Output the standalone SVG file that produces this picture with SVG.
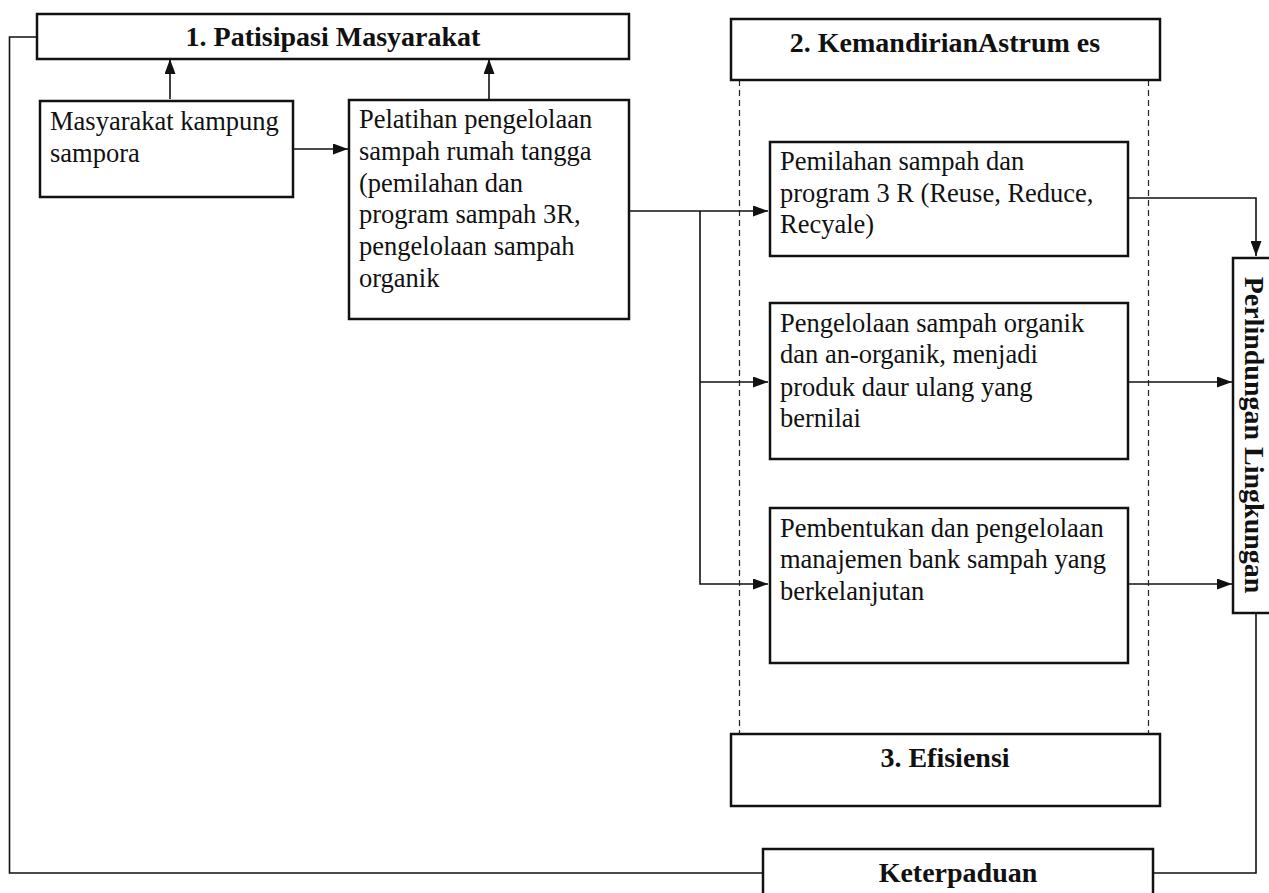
<svg xmlns="http://www.w3.org/2000/svg" width="1269" height="893" viewBox="0 0 1269 893">
<style>
.box{fill:#fff;stroke:#111;stroke-width:2.5}
.ln{fill:none;stroke:#111;stroke-width:1.6}
.dash{fill:none;stroke:#222;stroke-width:1.2;stroke-dasharray:6 4}
.t{font-family:"Liberation Serif","Times New Roman",serif;font-size:26.5px;fill:#111}
.h{font-family:"Liberation Serif","Times New Roman",serif;font-size:28px;font-weight:bold;fill:#111;text-anchor:middle}
</style>
<defs>
<marker id="ar" viewBox="0 0 15 11" refX="15" refY="5.5" markerWidth="15" markerHeight="11" markerUnits="userSpaceOnUse" orient="auto">
<path d="M0,0 L15,5.5 L0,11 Z" fill="#111"/>
</marker>
</defs>
<g id="connectors">
<polyline class="ln" points="37,37 9.5,37 9.5,873 763,873"/>
<polyline class="ln" points="1153,873 1256,873 1256,613"/>
<line class="ln" x1="170" y1="99" x2="170" y2="59" marker-end="url(#ar)"/>
<line class="ln" x1="489" y1="100" x2="489" y2="59" marker-end="url(#ar)"/>
<line class="ln" x1="293" y1="149" x2="348" y2="149" marker-end="url(#ar)"/>
<line class="ln" x1="629" y1="211" x2="768" y2="211" marker-end="url(#ar)"/>
<polyline class="ln" points="700,211 700,584 768,584" marker-end="url(#ar)"/>
<line class="ln" x1="700" y1="382" x2="768" y2="382" marker-end="url(#ar)"/>
<polyline class="ln" points="1128,198 1256,198 1256,256" marker-end="url(#ar)"/>
<line class="ln" x1="1128" y1="382" x2="1232" y2="382" marker-end="url(#ar)"/>
<line class="ln" x1="1128" y1="584" x2="1232" y2="584" marker-end="url(#ar)"/>
<line class="dash" x1="739.5" y1="80" x2="739.5" y2="734"/>
<line class="dash" x1="1148.5" y1="80" x2="1148.5" y2="734"/>
</g>
<g id="node-patisipasi">
<rect class="box" x="37" y="14" width="592" height="45"/>
<text class="h" x="333" y="46">1. Patisipasi Masyarakat</text>
</g>
<g id="node-masyarakat">
<rect class="box" x="40" y="101" width="253" height="96"/>
<text class="t" x="50" y="130">Masyarakat kampung</text>
<text class="t" x="50" y="162">sampora</text>
</g>
<g id="node-pelatihan">
<rect class="box" x="349" y="100" width="280" height="219"/>
<text class="t" x="359" y="128">Pelatihan pengelolaan</text>
<text class="t" x="359" y="160">sampah rumah tangga</text>
<text class="t" x="359" y="192">(pemilahan dan</text>
<text class="t" x="359" y="223">program sampah 3R,</text>
<text class="t" x="359" y="255">pengelolaan sampah</text>
<text class="t" x="359" y="287">organik</text>
</g>
<g id="node-kemandirian">
<rect class="box" x="731" y="19" width="429" height="61"/>
<text class="h" x="945" y="52">2. KemandirianAstrum es</text>
</g>
<g id="node-pemilahan">
<rect class="box" x="770" y="142" width="358" height="114"/>
<text class="t" x="780" y="170">Pemilahan sampah dan</text>
<text class="t" x="780" y="202">program 3 R (Reuse, Reduce,</text>
<text class="t" x="780" y="233">Recyale)</text>
</g>
<g id="node-organik">
<rect class="box" x="770" y="303" width="358" height="156"/>
<text class="t" x="780" y="332">Pengelolaan sampah organik</text>
<text class="t" x="780" y="363">dan an-organik, menjadi</text>
<text class="t" x="780" y="396">produk daur ulang yang</text>
<text class="t" x="780" y="427">bernilai</text>
</g>
<g id="node-bank">
<rect class="box" x="770" y="508" width="358" height="155"/>
<text class="t" x="780" y="537">Pembentukan dan pengelolaan</text>
<text class="t" x="780" y="568">manajemen bank sampah yang</text>
<text class="t" x="780" y="600">berkelanjutan</text>
</g>
<g id="node-efisiensi">
<rect class="box" x="731" y="734" width="429" height="72"/>
<text class="h" x="945" y="767">3. Efisiensi</text>
</g>
<g id="node-perlindungan">
<rect class="box" x="1233" y="258" width="40" height="355"/>
<text class="h" transform="translate(1245,435) rotate(90)" x="0" y="0">Perlindungan Lingkungan</text>
</g>
<g id="node-keterpaduan">
<rect class="box" x="763" y="849" width="390" height="50"/>
<text class="h" x="958" y="882">Keterpaduan</text>
</g>
</svg>
